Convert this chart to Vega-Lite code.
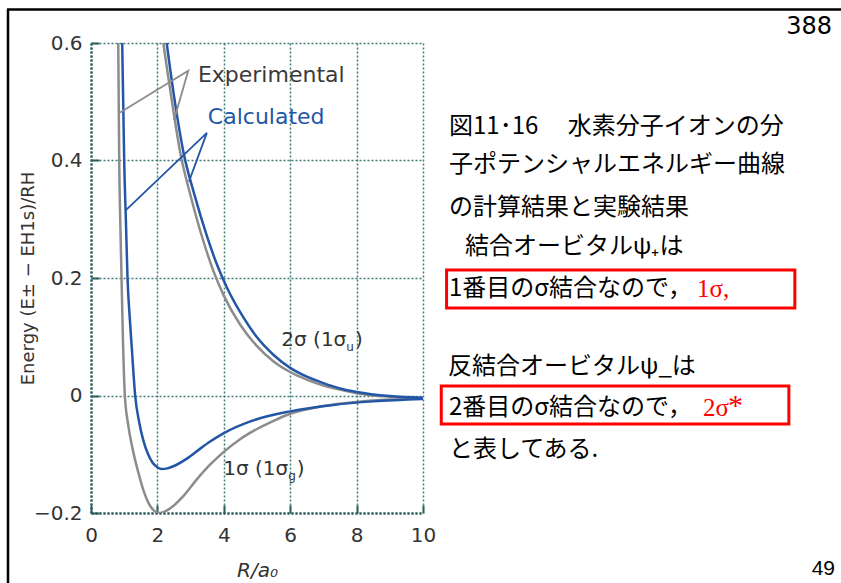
{
  "$schema": "https://vega.github.io/schema/vega-lite/v6.json",
  "width": 332,
  "height": 470,
  "autosize": {"type": "none"},
  "padding": {"left": 91, "top": 43, "right": 418, "bottom": 70},
  "background": "white",
  "config": {"view": {"stroke": null}},
  "datasets": {
    "frame": [
      {"R": -2.5, "R2": -2.5, "E": 0.657, "E2": -0.45},
      {"R": -2.53, "R2": 23.5, "E": 0.657, "E2": 0.657}
    ],
    "exp": [
      {"s": "bond", "R": 0.80, "E": 0.70}, {"s": "bond", "R": 0.82, "E": 0.6}, {"s": "bond", "R": 0.835, "E": 0.5},
      {"s": "bond", "R": 0.85, "E": 0.4}, {"s": "bond", "R": 0.88, "E": 0.3}, {"s": "bond", "R": 0.92, "E": 0.2},
      {"s": "bond", "R": 0.96, "E": 0.1}, {"s": "bond", "R": 1.02, "E": 0.0}, {"s": "bond", "R": 1.12, "E": -0.05},
      {"s": "bond", "R": 1.25, "E": -0.09}, {"s": "bond", "R": 1.43, "E": -0.132}, {"s": "bond", "R": 1.6, "E": -0.165},
      {"s": "bond", "R": 1.75, "E": -0.185}, {"s": "bond", "R": 1.9, "E": -0.196}, {"s": "bond", "R": 2.03, "E": -0.2},
      {"s": "bond", "R": 2.15, "E": -0.199}, {"s": "bond", "R": 2.3, "E": -0.195},
      {"s": "bond", "R": 2.5, "E": -0.187}, {"s": "bond", "R": 2.8, "E": -0.17}, {"s": "bond", "R": 3.2, "E": -0.142},
      {"s": "bond", "R": 3.6, "E": -0.117}, {"s": "bond", "R": 4.0, "E": -0.096}, {"s": "bond", "R": 4.5, "E": -0.074},
      {"s": "bond", "R": 5.0, "E": -0.057}, {"s": "bond", "R": 5.5, "E": -0.043}, {"s": "bond", "R": 6.0, "E": -0.031},
      {"s": "bond", "R": 7.0, "E": -0.018}, {"s": "bond", "R": 8.0, "E": -0.011}, {"s": "bond", "R": 9.0, "E": -0.007},
      {"s": "bond", "R": 10.0, "E": -0.005},
      {"s": "anti", "R": 2.0, "E": 0.68}, {"s": "anti", "R": 2.18, "E": 0.6}, {"s": "anti", "R": 2.4, "E": 0.515},
      {"s": "anti", "R": 2.7, "E": 0.41}, {"s": "anti", "R": 3.0, "E": 0.34}, {"s": "anti", "R": 3.4, "E": 0.26},
      {"s": "anti", "R": 3.7, "E": 0.21}, {"s": "anti", "R": 4.0, "E": 0.17}, {"s": "anti", "R": 4.5, "E": 0.12},
      {"s": "anti", "R": 5.0, "E": 0.084}, {"s": "anti", "R": 5.5, "E": 0.058}, {"s": "anti", "R": 6.0, "E": 0.04},
      {"s": "anti", "R": 6.5, "E": 0.027}, {"s": "anti", "R": 7.0, "E": 0.017}, {"s": "anti", "R": 7.5, "E": 0.01},
      {"s": "anti", "R": 8.0, "E": 0.004}, {"s": "anti", "R": 9.0, "E": -0.002}, {"s": "anti", "R": 10.0, "E": -0.005}
    ],
    "calc": [
      {"s": "bond", "R": 0.92, "E": 0.70}, {"s": "bond", "R": 0.94, "E": 0.6}, {"s": "bond", "R": 0.97, "E": 0.5},
      {"s": "bond", "R": 1.0, "E": 0.4}, {"s": "bond", "R": 1.05, "E": 0.3}, {"s": "bond", "R": 1.1, "E": 0.2},
      {"s": "bond", "R": 1.17, "E": 0.13}, {"s": "bond", "R": 1.23, "E": 0.08}, {"s": "bond", "R": 1.33, "E": 0.0},
      {"s": "bond", "R": 1.45, "E": -0.045}, {"s": "bond", "R": 1.57, "E": -0.075}, {"s": "bond", "R": 1.72, "E": -0.1},
      {"s": "bond", "R": 1.85, "E": -0.114}, {"s": "bond", "R": 2.0, "E": -0.122}, {"s": "bond", "R": 2.13, "E": -0.125},
      {"s": "bond", "R": 2.3, "E": -0.124}, {"s": "bond", "R": 2.5, "E": -0.12}, {"s": "bond", "R": 2.9, "E": -0.107},
      {"s": "bond", "R": 3.3, "E": -0.09}, {"s": "bond", "R": 3.6, "E": -0.078}, {"s": "bond", "R": 4.0, "E": -0.064},
      {"s": "bond", "R": 4.8, "E": -0.044}, {"s": "bond", "R": 6.0, "E": -0.027}, {"s": "bond", "R": 7.3, "E": -0.016},
      {"s": "bond", "R": 8.5, "E": -0.01}, {"s": "bond", "R": 10.0, "E": -0.006},
      {"s": "anti", "R": 2.1, "E": 0.68}, {"s": "anti", "R": 2.28, "E": 0.6}, {"s": "anti", "R": 2.5, "E": 0.51},
      {"s": "anti", "R": 2.8, "E": 0.41}, {"s": "anti", "R": 3.1, "E": 0.345}, {"s": "anti", "R": 3.5, "E": 0.27},
      {"s": "anti", "R": 3.8, "E": 0.222}, {"s": "anti", "R": 4.1, "E": 0.183}, {"s": "anti", "R": 4.6, "E": 0.132},
      {"s": "anti", "R": 5.0, "E": 0.099}, {"s": "anti", "R": 5.5, "E": 0.069}, {"s": "anti", "R": 6.0, "E": 0.047},
      {"s": "anti", "R": 6.5, "E": 0.032}, {"s": "anti", "R": 7.0, "E": 0.021}, {"s": "anti", "R": 7.5, "E": 0.012},
      {"s": "anti", "R": 8.0, "E": 0.006}, {"s": "anti", "R": 9.0, "E": -0.001}, {"s": "anti", "R": 10.0, "E": -0.004}
    ],
    "pexp": [
      {"o": 1, "R": 0.85, "E": 0.481}, {"o": 2, "R": 2.93, "E": 0.553}, {"o": 3, "R": 2.5, "E": 0.469}
    ],
    "pcalc": [
      {"o": 1, "R": 1.06, "E": 0.316}, {"o": 2, "R": 3.49, "E": 0.447}, {"o": 3, "R": 2.95, "E": 0.364}
    ],
    "anExp": [{"R": 3.22, "E": 0.5455, "t": "Experimental"}],
    "anCalc": [{"R": 3.52, "E": 0.474, "t": "Calculated"}],
    "lblMain": [
      {"R": 7.69, "E": 0.0945, "t": "2σ (1σ"},
      {"R": 5.94, "E": -0.125, "t": "1σ (1σ"}
    ],
    "lblSub": [
      {"R": 7.69, "E": 0.0826, "t": "u"},
      {"R": 5.94, "E": -0.137, "t": "g"}
    ],
    "lblParen": [
      {"R": 7.95, "E": 0.0945, "t": ")"},
      {"R": 6.2, "E": -0.125, "t": ")"}
    ],
    "jp": [
      {"R": 10.783, "E": 0.4575, "t": "図11･16 　水素分子イオンの分"},
      {"R": 10.783, "E": 0.3923, "t": "子ポテンシャルエネルギー曲線"},
      {"R": 10.783, "E": 0.32, "t": "の計算結果と実験結果"},
      {"R": 11.265, "E": 0.2533, "t": "結合オービタルψ₊は"},
      {"R": 10.783, "E": 0.1813, "t": "1番目のσ結合なので，"},
      {"R": 10.753, "E": 0.0477, "t": "反結合オービタルψ_は"},
      {"R": 10.783, "E": -0.0213, "t": "2番目のσ結合なので，"},
      {"R": 10.783, "E": -0.0928, "t": "と表してある."}
    ],
    "red": [
      {"R": 18.25, "E": 0.1813, "t": "1σ,"},
      {"R": 18.43, "E": -0.0213, "t": "2σ"}
    ],
    "star": [{"R": 19.19, "E": -0.0332, "t": "*"}],
    "boxes": [
      {"R": 10.71, "R2": 21.2, "E": 0.2136, "E2": 0.1489},
      {"R": 10.55, "R2": 21.02, "E": 0.0162, "E2": -0.0485}
    ],
    "pg388": [{"R": 22.32, "E": 0.627, "t": "388"}],
    "pg49": [{"R": 22.41, "E": -0.2953, "t": "49"}]
  },
  "encoding": {
    "x": {
      "field": "R", "type": "quantitative",
      "scale": {"domain": [0, 10], "nice": false, "zero": false},
      "axis": {
        "values": [0, 2, 4, 6, 8, 10], "format": "d",
        "title": "R/a₀", "titleFont": "DejaVu Sans", "titleFontSize": 20, "titleFontStyle": "italic", "titleFontWeight": "normal", "titleColor": "#333333", "titlePadding": 15,
        "labelFont": "DejaVu Sans", "labelFontSize": 20, "labelColor": "#333333", "labelPadding": 20, "labelFlush": false,
        "grid": true, "gridColor": "#3e7c76", "gridDash": [2, 2], "gridWidth": 1.5,
        "domain": true, "domainColor": "#2f5f5b", "domainDash": [2, 2], "domainWidth": 2.5,
        "ticks": true, "tickSize": -8, "tickColor": "#2f5f5b", "tickWidth": 2
      }
    },
    "y": {
      "field": "E", "type": "quantitative",
      "scale": {"domain": [-0.2, 0.6], "nice": false, "zero": false},
      "axis": {
        "values": [-0.2, 0, 0.2, 0.4, 0.6], "format": ".1~f",
        "title": "Energy (E± − EH1s)/RH", "titleFont": "DejaVu Sans", "titleFontSize": 18, "titleFontWeight": "normal", "titleColor": "#333333", "titlePadding": -4,
        "labelFont": "DejaVu Sans", "labelFontSize": 20, "labelColor": "#333333", "labelPadding": 17, "labelFlush": false,
        "grid": true, "gridColor": "#3e7c76", "gridDash": [2, 2], "gridWidth": 1.5,
        "domain": true, "domainColor": "#2f5f5b", "domainDash": [2, 2], "domainWidth": 2.5,
        "ticks": true, "tickSize": -8, "tickColor": "#2f5f5b", "tickWidth": 2
      }
    }
  },
  "layer": [
    {
      "data": {"name": "frame"},
      "mark": {"type": "rule", "color": "#000000", "strokeWidth": 2.5},
      "encoding": {"x2": {"field": "R2"}, "y2": {"field": "E2"}}
    },
    {
      "data": {"name": "exp"},
      "mark": {"type": "line", "color": "#8c8c8c", "strokeWidth": 2.5, "interpolate": "monotone", "clip": true},
      "encoding": {"detail": {"field": "s"}}
    },
    {
      "data": {"name": "calc"},
      "mark": {"type": "line", "color": "#2356a6", "strokeWidth": 2.5, "interpolate": "monotone", "clip": true},
      "encoding": {"detail": {"field": "s"}}
    },
    {
      "data": {"name": "pexp"},
      "mark": {"type": "line", "color": "#8c8c8c", "strokeWidth": 1.8},
      "encoding": {"order": {"field": "o"}}
    },
    {
      "data": {"name": "pcalc"},
      "mark": {"type": "line", "color": "#2356a6", "strokeWidth": 1.8},
      "encoding": {"order": {"field": "o"}}
    },
    {
      "data": {"name": "anExp"},
      "mark": {"type": "text", "align": "left", "baseline": "middle", "font": "DejaVu Sans", "fontSize": 22, "color": "#3a3a3a"},
      "encoding": {"text": {"field": "t"}}
    },
    {
      "data": {"name": "anCalc"},
      "mark": {"type": "text", "align": "left", "baseline": "middle", "font": "DejaVu Sans", "fontSize": 22, "color": "#2356a6"},
      "encoding": {"text": {"field": "t"}}
    },
    {
      "data": {"name": "lblMain"},
      "mark": {"type": "text", "align": "right", "baseline": "middle", "font": "DejaVu Sans", "fontSize": 20, "color": "#333333"},
      "encoding": {"text": {"field": "t"}}
    },
    {
      "data": {"name": "lblSub"},
      "mark": {"type": "text", "align": "left", "baseline": "middle", "font": "DejaVu Sans", "fontSize": 12, "color": "#333333"},
      "encoding": {"text": {"field": "t"}}
    },
    {
      "data": {"name": "lblParen"},
      "mark": {"type": "text", "align": "left", "baseline": "middle", "font": "DejaVu Sans", "fontSize": 20, "color": "#333333"},
      "encoding": {"text": {"field": "t"}}
    },
    {
      "data": {"name": "jp"},
      "mark": {"type": "text", "align": "left", "baseline": "middle", "font": "Noto Sans CJK JP", "fontSize": 24, "color": "#000000"},
      "encoding": {"text": {"field": "t"}}
    },
    {
      "data": {"name": "red"},
      "mark": {"type": "text", "align": "left", "baseline": "middle", "font": "Liberation Serif", "fontSize": 25, "color": "#ff0000"},
      "encoding": {"text": {"field": "t"}}
    },
    {
      "data": {"name": "star"},
      "mark": {"type": "text", "align": "left", "baseline": "alphabetic", "font": "Liberation Serif", "fontSize": 30, "color": "#ff0000"},
      "encoding": {"text": {"field": "t"}}
    },
    {
      "data": {"name": "boxes"},
      "mark": {"type": "rect", "filled": false, "stroke": "#ff0000", "strokeWidth": 3},
      "encoding": {"x2": {"field": "R2"}, "y2": {"field": "E2"}}
    },
    {
      "data": {"name": "pg388"},
      "mark": {"type": "text", "align": "right", "baseline": "middle", "font": "DejaVu Sans", "fontSize": 24, "color": "#000000"},
      "encoding": {"text": {"field": "t"}}
    },
    {
      "data": {"name": "pg49"},
      "mark": {"type": "text", "align": "right", "baseline": "middle", "font": "Liberation Sans", "fontSize": 21, "color": "#000000"},
      "encoding": {"text": {"field": "t"}}
    }
  ]
}
